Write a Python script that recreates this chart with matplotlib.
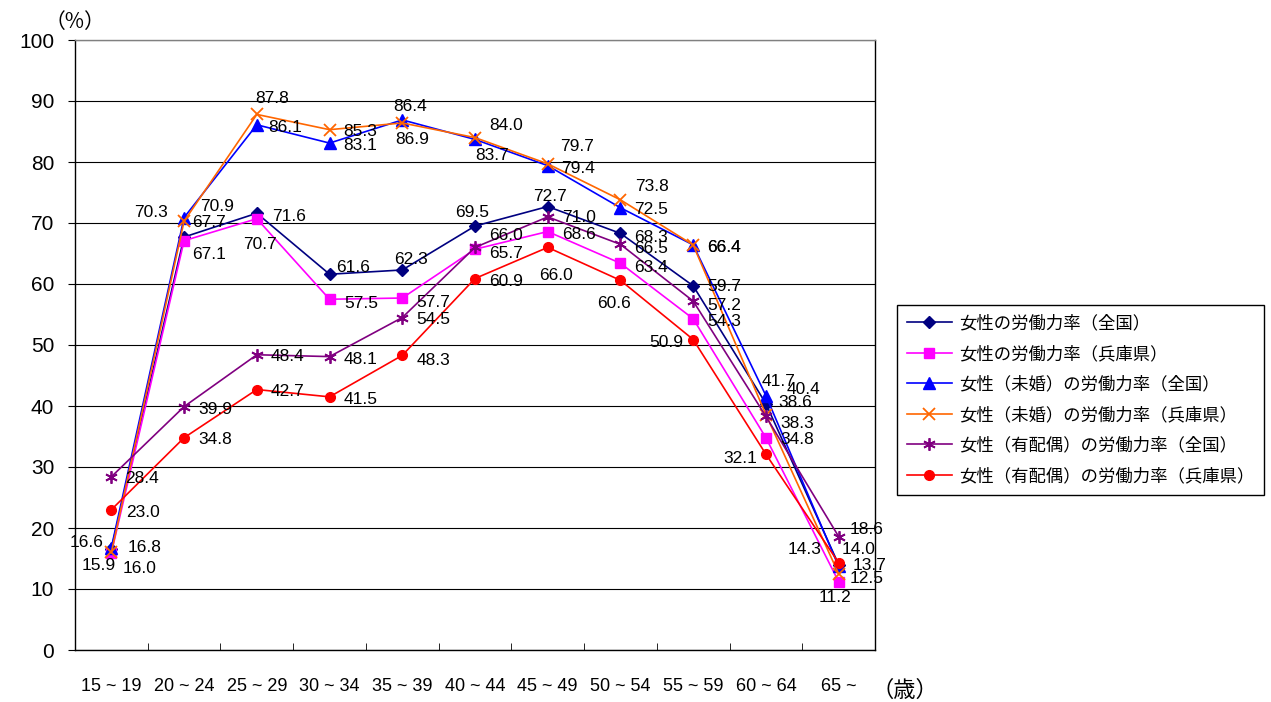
import numpy as np
import matplotlib
matplotlib.use('Agg')
from matplotlib import pyplot as plt

plt.rcParams['font.family'] = ['Liberation Sans', 'Noto Sans CJK JP', 'DejaVu Sans']

ages = ['15 ~ 19', '20 ~ 24', '25 ~ 29', '30 ~ 34', '35 ~ 39', '40 ~ 44',
        '45 ~ 49', '50 ~ 54', '55 ~ 59', '60 ~ 64', '65 ~']

all_japan = [16.6, 67.7, 71.6, 61.6, 62.3, 69.5, 72.7, 68.3, 59.7, 40.4, 14.0]
all_hyogo = [15.9, 67.1, 70.7, 57.5, 57.7, 65.7, 68.6, 63.4, 54.3, 34.8, 11.2]
single_japan = [16.8, 70.9, 86.1, 83.1, 86.9, 83.7, 79.4, 72.5, 66.4, 41.7, 13.7]
single_hyogo = [16.0, 70.3, 87.8, 85.3, 86.4, 84.0, 79.7, 73.8, 66.4, 38.6, 12.5]
married_japan = [28.4, 39.9, 48.4, 48.1, 54.5, 66.0, 71.0, 66.5, 57.2, 38.3, 18.6]
married_hyogo = [23.0, 34.8, 42.7, 41.5, 48.3, 60.9, 66.0, 60.6, 50.9, 32.1, 14.3]

names = ['女性の労働力率（全国）', '女性の労働力率（兵庫県）',
         '女性（未婚）の労働力率（全国）', '女性（未婚）の労働力率（兵庫県）',
         '女性（有配偶）の労働力率（全国）', '女性（有配偶）の労働力率（兵庫県）']

# label placement: (align, dx px, dy px)
offs_all_japan = [('r', -8, 6), ('l', 8, 15), ('l', 15, -3), ('l', 7, 7), ('c', 9, 10), ('c', -3, 14),
                  ('c', 2, 10), ('l', 14, -4), ('l', 14, -1), ('l', 21, 14), ('l', 3, 15)]
offs_all_hyogo = [('c', -13, -12), ('l', 8, -14), ('c', 3, -26), ('l', 15, -4), ('l', 14, -4), ('l', 14, -4),
                  ('l', 14, -3), ('l', 14, -4), ('l', 14, -3), ('l', 14, -2), ('c', -4, -16)]
offs_single_japan = [('l', 16, 0), ('l', 16, 11), ('l', 11, -3), ('l', 14, -2), ('c', 10, -20), ('l', 0, -16),
                     ('l', 13, -3), ('l', 14, -2), ('l', 14, -3), ('c', 13, 14), ('l', 14, 1)]
offs_single_hyogo = [('l', 11, -16), ('r', -16, 9), ('c', 15, 16), ('l', 14, -2), ('c', 8, 16), ('l', 14, 12),
                     ('l', 12, 17), ('l', 15, 13), ('l', 14, -3), ('l', 12, 12), ('l', 11, -5)]
offs_married_japan = [('l', 14, -2), ('l', 14, -3), ('l', 14, -2), ('l', 14, -3), ('l', 14, -2), ('l', 14, 12),
                      ('l', 14, -1), ('l', 14, -4), ('l', 14, -4), ('l', 14, -7), ('l', 11, 7)]
offs_married_hyogo = [('l', 15, -3), ('l', 14, -2), ('l', 14, -2), ('l', 14, -3), ('l', 14, -5), ('l', 14, -3),
                      ('c', 8, -28), ('c', -6, -23), ('r', -10, -3), ('r', -9, -4), ('r', -17, 13)]

series = [
    (all_japan, '#000080', 'D', 6.5, offs_all_japan),
    (all_hyogo, '#FF00FF', 's', 7, offs_all_hyogo),
    (single_japan, '#0000FF', '^', 8, offs_single_japan),
    (single_hyogo, '#FF6600', 'x', 8, offs_single_hyogo),
    (married_japan, '#800080', (6, 2, 0), 9, offs_married_japan),
    (married_hyogo, '#FF0000', 'o', 7, offs_married_hyogo),
]

fig = plt.figure(figsize=(12.71, 7.02), dpi=100)
ax = fig.add_axes([75 / 1271, 1 - 650 / 702, 800 / 1271, 610 / 702])

x = np.arange(len(ages))
ha_map = {'l': 'left', 'r': 'right', 'c': 'center'}
for (vals, col, mk, ms, offs), name in zip(series, names):
    ax.plot(x, vals, color=col, marker=mk, markersize=ms, lw=1.2,
            markeredgewidth=1.3 if mk in ('x', (6, 2, 0)) else 1,
            label=name, zorder=3)
    for xi, v, (a, dx, dy) in zip(x, vals, offs):
        ax.annotate(f'{v:.1f}', (xi, v), xytext=(dx, dy), textcoords='offset pixels',
                    ha=ha_map[a], va='center', fontsize=12.5, color='black', zorder=4)

ax.set_xlim(-0.5, len(ages) - 0.5)
ax.set_ylim(0, 100)
ax.set_yticks(np.arange(0, 101, 10))
ax.yaxis.grid(True, color='black', lw=0.8)
ax.set_axisbelow(True)
ax.tick_params(axis='y', labelsize=15, length=5, direction='out', pad=10)
ax.set_xticks(x)
ax.set_xticklabels(ages)
ax.tick_params(axis='x', labelsize=13, length=0, pad=20)
ax.set_xticks(np.arange(-0.5, len(ages), 1), minor=True)
ax.tick_params(axis='x', which='minor', length=5, direction='in')
for s in ax.spines.values():
    s.set_color('black')
    s.set_linewidth(1)
ax.spines['top'].set_color('#808080')

fig.text(75 / 1271, 1 - 22 / 702, '（%）', ha='center', va='center', fontsize=15,
         family=['Noto Sans CJK JP'])
fig.text(905 / 1271, 1 - 690 / 702, '（歳）', ha='center', va='center', fontsize=16,
         family=['Noto Sans CJK JP'])

leg = fig.legend(loc='upper left', bbox_to_anchor=(897 / 1271, 1 - 305 / 702),
                 borderaxespad=0, fancybox=False, framealpha=1, edgecolor='black',
                 prop={'family': 'Noto Sans CJK JP', 'size': 12.5}, handlelength=2.6,
                 labelspacing=0.72, borderpad=0.55, handletextpad=0.4)
leg.get_frame().set_linewidth(1)

fig.savefig('out.png', dpi=100)
